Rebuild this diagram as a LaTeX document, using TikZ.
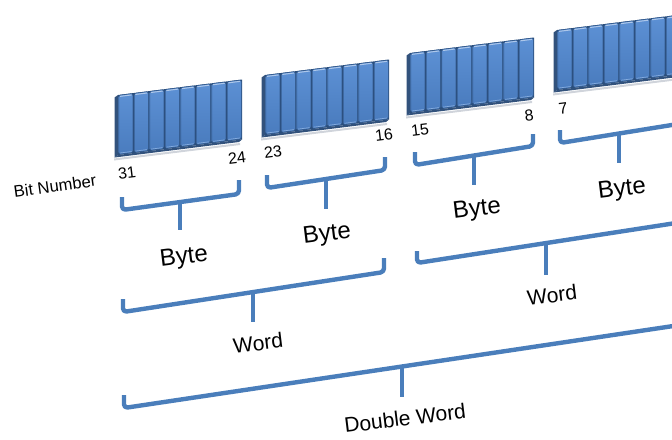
\documentclass[tikz,border=0pt]{standalone}
\usepackage{fontspec}
\setmainfont{Liberation Sans}
\usetikzlibrary{calc}

\definecolor{bracketblue}{RGB}{74,126,187}
\definecolor{bartop}{RGB}{92,144,212}
\definecolor{barbot}{RGB}{74,124,190}
\definecolor{baredge}{RGB}{42,78,124}
\definecolor{barside}{RGB}{50,82,124}
\definecolor{barshadow}{RGB}{150,160,175}

\tikzset{
  bracketline/.style={draw=bracketblue, line width=2.2pt, line join=round, rounded corners=1.8pt},
  stemline/.style={draw=bracketblue, line width=2.2pt},
  barface/.style={top color=bartop, bottom color=barbot, draw=baredge!80!bartop, line width=0.3pt, rounded corners=0.8pt},
  numlbl/.style={font=\fontsize{8}{9}\selectfont, inner sep=0pt, rotate=7},
  bytelbl/.style={font=\fontsize{12}{14}\selectfont, inner sep=0pt, rotate=7},
  wordlbl/.style={font=\fontsize{10.5}{12}\selectfont, inner sep=0pt, rotate=7},
  sidelbl/.style={font=\fontsize{8.3}{10}\selectfont, inner sep=0pt, rotate=8},
}

% one byte: eight bars on a slanted strip, with a dark side and a soft shadow
\newcommand\byteblock[2]{%
  \fill[barshadow, opacity=0.45] (#1-4,#2+63.5) -- (#1+124-2,#2+60-15.5+3.5) -- (#1+124-2,#2+60-15.5+5.5) -- (#1-4,#2+65.5) -- cycle;
  \fill[barside] (#1,#2) -- (#1-3.5,#2+2.5) -- (#1-3.5,#2+62.5) -- (#1,#2+60) -- cycle;
  \fill[barside] (#1,#2+60) -- (#1+124,#2+44.5) -- (#1+121,#2+47) -- (#1-3.5,#2+62.5) -- cycle;
  \fill[baredge] (#1,#2) -- (#1+124,#2-15.5) -- (#1+124,#2+44.5) -- (#1,#2+60) -- cycle;
  \foreach \k in {0,...,7} {
    \shadedraw[barface]
      ({#1+15.5*\k+0.7},{#2-1.9375*\k+0.3}) -- ++(14.1,-1.76) -- ++(0,59) -- ++(-14.1,1.76) -- cycle;
    \draw[bartop!50!white, line width=0.5pt]
      ({#1+15.5*\k+1.8},{#2-1.9375*\k+1.4}) -- ++(11.9,-1.49);
    \draw[bartop!75!white, line width=0.35pt]
      ({#1+15.5*\k+1.8},{#2-1.9375*\k+58}) -- ++(11.9,-1.49);
  }
}

\begin{document}
\begin{tikzpicture}[x=0.5pt, y=-0.5pt]
  \useasboundingbox (0,0) rectangle (672,439);
  \clip (0,0) rectangle (672,439);

  % the four bytes
  \byteblock{118}{95}
  \byteblock{265}{75}
  \byteblock{410}{53}
  \byteblock{557}{30}

  % bit numbers
  \node[sidelbl] (bitnum) at (55,186) {Bit Number};
  \node[numlbl] (n31) at (127,173) {31};
  \node[numlbl] (n24) at (237,158) {24};
  \node[numlbl] (n23) at (273,152) {23};
  \node[numlbl] (n16) at (384,135) {16};
  \node[numlbl] (n15) at (420,130) {15};
  \node[numlbl] (n8)  at (529,115) {8};
  \node[numlbl] (n7)  at (563,108) {7};
  \node[numlbl] (n0)  at (676,92)  {0};

  % byte brackets
  \coordinate (b1l) at (122,197); \coordinate (b1r) at (239,180);
  \draw[bracketline] (b1l) -- ++(0,13) -- ($(b1r)+(0,14)$) -- (b1r);
  \coordinate (b1s) at (180,202); \coordinate (b1e) at (180,230);
  \draw[stemline] (b1s) -- (b1e);

  \coordinate (b2l) at (267,175); \coordinate (b2r) at (385,157);
  \draw[bracketline] (b2l) -- ++(0,13) -- ($(b2r)+(0,13)$) -- (b2r);
  \coordinate (b2s) at (326,179); \coordinate (b2e) at (326,209);
  \draw[stemline] (b2s) -- (b2e);

  \coordinate (b3l) at (415,152); \coordinate (b3r) at (533,134);
  \draw[bracketline] (b3l) -- ++(0,13) -- ($(b3r)+(0,12)$) -- (b3r);
  \coordinate (b3s) at (474,155.5); \coordinate (b3e) at (474,185);
  \draw[stemline] (b3s) -- (b3e);

  \coordinate (b4l) at (560,130); \coordinate (b4r) at (678,112);
  \draw[bracketline] (b4l) -- ++(0,13) -- ($(b4r)+(0,12)$) -- (b4r);
  \coordinate (b4s) at (619,134); \coordinate (b4e) at (619,163);
  \draw[stemline] (b4s) -- (b4e);

  \node[bytelbl] (byte1) at (184,258) {Byte};
  \node[bytelbl] (byte2) at (327,235) {Byte};
  \node[bytelbl] (byte3) at (477,210) {Byte};
  \node[bytelbl] (byte4) at (622,190) {Byte};

  % word brackets
  \coordinate (w1l) at (123,299); \coordinate (w1r) at (384,258);
  \draw[bracketline] (w1l) -- ++(0,13) -- ($(w1r)+(0,14)$) -- (w1r);
  \coordinate (w1s) at (253,292); \coordinate (w1e) at (253,322);
  \draw[stemline] (w1s) -- (w1e);

  \coordinate (w2l) at (417,251); \coordinate (w2r) at (676,211);
  \draw[bracketline] (w2l) -- ++(0,12) -- ($(w2r)+(0,12)$) -- (w2r);
  \coordinate (w2s) at (546,244); \coordinate (w2e) at (546,275);
  \draw[stemline] (w2s) -- (w2e);

  \node[wordlbl] (word1) at (258,343) {Word};
  \node[wordlbl] (word2) at (552,295) {Word};

  % double word bracket
  \coordinate (dl) at (124,395); \coordinate (dr) at (680,313);
  \draw[bracketline] (dl) -- ++(0,13) -- ($(dr)+(0,12)$) -- (dr);
  \coordinate (ds) at (402,368); \coordinate (de) at (402,397);
  \draw[stemline] (ds) -- (de);

  \node[wordlbl] (dword) at (405,418) {Double Word};
\end{tikzpicture}
\end{document}
